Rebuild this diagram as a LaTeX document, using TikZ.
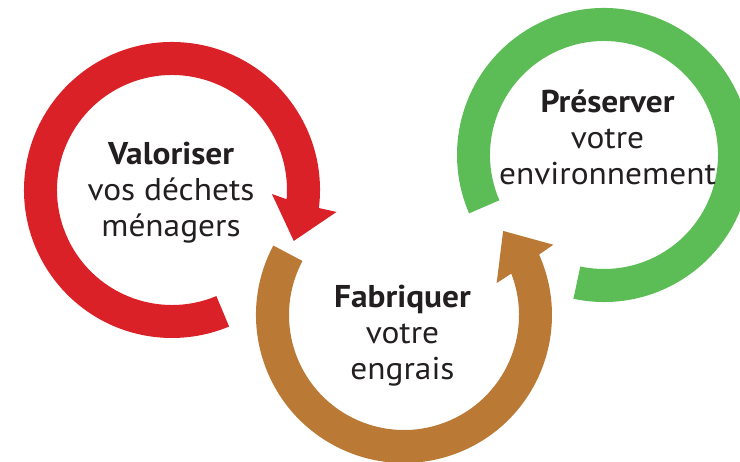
\documentclass[tikz,border=0pt]{standalone}
\usepackage{fontspec}
\setmainfont[FakeStretch=1.06]{PT Sans}
\definecolor{cred}{RGB}{218,33,40}
\definecolor{cbrown}{RGB}{186,122,53}
\definecolor{cgreen}{RGB}{92,188,86}
\definecolor{ctext}{RGB}{35,31,32}
\begin{document}
\begin{tikzpicture}[x=1pt,y=1pt,
  lbl/.style={align=center, text=ctext, font=\fontsize{31.5}{36}\selectfont, inner sep=0pt, anchor=base}]
\useasboundingbox (0,0) rectangle (740,462);
\clip (0,0) rectangle (740,462);
% red ring with arrow
\begin{scope}[shift={(172,272)}]
  \fill[cred] (-7:148) arc[start angle=-7, end angle=292.7, radius=148]
    -- (292.7:115) arc[start angle=292.7, end angle=-4.6, radius=115]
    -- (-2.3:100) -- (-22.7:132) -- (-7.6:166) -- cycle;
\end{scope}
% brown ring with arrow
\begin{scope}[shift={(404,147)}]
  \fill[cbrown] (152:148) arc[start angle=152, end angle=384.1, radius=148]
    -- (25.2:165) -- (40.3:130) -- (19:98) -- (21.1:115)
    arc[start angle=21.1, end angle=-208, radius=115] -- cycle;
\end{scope}
% green ring
\begin{scope}[shift={(604,307)}]
  \fill[cgreen] (258:147) arc[start angle=258, end angle=563.4, radius=147]
    -- (203.4:114) arc[start angle=203.4, end angle=-102, radius=114] -- cycle;
\end{scope}
\node[lbl] (valoriser) at (171,225) {\textbf{Valoriser}\\vos déchets\\ménagers};
\node[lbl] (fabriquer) at (402.5,82) {\textbf{Fabriquer}\\votre\\engrais};
\node[lbl] (preserver) at (607.5,277) {\textbf{Préserver}\\votre\\environnement};
\end{tikzpicture}
\end{document}
